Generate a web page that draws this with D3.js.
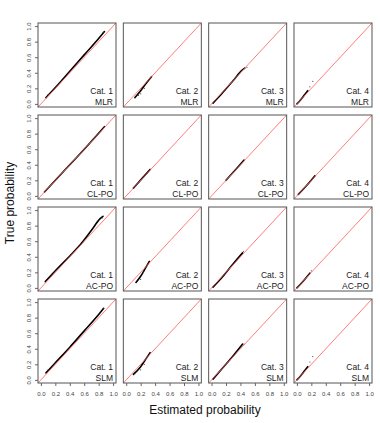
<!DOCTYPE html>
<html><head><meta charset="utf-8">
<script src="https://cdn.jsdelivr.net/npm/d3@7"></script>
<style>body{margin:0;background:#fff}svg{display:block;font-family:"Liberation Sans",Arial,sans-serif}</style>
</head><body><svg id="c" width="380" height="423"></svg>
<script>
const categories = ["Cat. 1","Cat. 2","Cat. 3","Cat. 4"];
const models = ["MLR","CL-PO","AC-PO","SLM"];
const ticks = [0,0.2,0.4,0.6,0.8,1.0];
// [estimated, true] points along each dense cloud, per category
const mlrCurves = [
  [[0.07,0.08],[0.2,0.21],[0.4,0.42],[0.6,0.63],[0.8,0.84],[0.88,0.93]],
  [[0.12,0.08],[0.2,0.17],[0.28,0.27],[0.35,0.35]],
  [[0.02,0.01],[0.15,0.14],[0.3,0.3],[0.42,0.43],[0.46,0.46]],
  [[0.0,0.0],[0.05,0.05],[0.1,0.11],[0.15,0.17]]
];
const mlrScatter = [
  [[0.1,0.12],[0.86,0.92]],
  [[0.2,0.13],[0.25,0.2],[0.17,0.11]],
  [[0.49,0.47]],
  [[0.18,0.22],[0.22,0.29]]
];
const clpoCurves = [
  [[0.05,0.05],[0.3,0.3],[0.6,0.6],[0.88,0.89]],
  [[0.1,0.1],[0.22,0.225],[0.33,0.34]],
  [[0.2,0.2],[0.35,0.355],[0.45,0.46]],
  [[0.02,0.02],[0.15,0.15],[0.25,0.26]]
];
const clpoScatter = [[],[],[],[]];
const acpoCurves = [
  [[0.06,0.08],[0.2,0.22],[0.4,0.41],[0.55,0.56],[0.7,0.74],[0.82,0.89],[0.86,0.92]],
  [[0.135,0.07],[0.2,0.15],[0.27,0.26],[0.32,0.34]],
  [[0.02,0.01],[0.15,0.14],[0.3,0.31],[0.43,0.45]],
  [[0.0,0.0],[0.08,0.08],[0.18,0.19]]
];
const acpoScatter = [
  [[0.85,0.9]],
  [[0.2,0.11],[0.24,0.2]],
  [[0.44,0.47]],
  [[0.2,0.22]]
];
const slmCurves = [
  [[0.07,0.09],[0.2,0.22],[0.4,0.42],[0.6,0.63],[0.8,0.84],[0.87,0.92]],
  [[0.1,0.07],[0.2,0.17],[0.28,0.28],[0.33,0.35]],
  [[0.02,0.01],[0.15,0.15],[0.3,0.31],[0.43,0.46]],
  [[0.0,0.0],[0.05,0.05],[0.1,0.11],[0.15,0.17]]
];
const slmScatter = [
  [[0.1,0.13],[0.86,0.92]],
  [[0.2,0.13],[0.25,0.2]],
  [[0.45,0.46]],
  [[0.18,0.23],[0.22,0.3]]
];
const allCurves = [mlrCurves, clpoCurves, acpoCurves, slmCurves];
const allScatter = [mlrScatter, clpoScatter, acpoScatter, slmScatter];

const svg = d3.select("#c");
const pw = 78, ph = 84;
const colX = d3.scaleLinear().domain([0,3]).range([38,294]);
const rowY = d3.scaleLinear().domain([0,3]).range([23,299]);
const x = d3.scaleLinear().domain([-0.04,1.04]).range([0,pw]);
const y = d3.scaleLinear().domain([-0.04,1.04]).range([ph,0]);
const fmt = d3.format(".1f");

svg.append("defs").append("clipPath").attr("id","pc").append("rect").attr("width",pw).attr("height",ph);

models.forEach((m, r) => {
  categories.forEach((cat, c) => {
    const g = svg.append("g").attr("transform", `translate(${colX(c)},${rowY(r)})`);
    const inner = g.append("g").attr("clip-path","url(#pc)");
    const line = d3.line().x(d=>x(d[0])).y(d=>y(d[1])).curve(d3.curveMonotoneX);
    inner.append("path").datum(allCurves[r][c]).attr("d", line)
      .attr("fill","none").attr("stroke","#000").attr("stroke-width",1.6).attr("stroke-linecap","round");
    inner.selectAll("circle").data(allScatter[r][c]).join("circle")
      .attr("cx",d=>x(d[0])).attr("cy",d=>y(d[1])).attr("r",0.6).attr("fill","#444");
    inner.append("line").attr("x1",x(-0.04)).attr("y1",y(-0.04)).attr("x2",x(1.04)).attr("y2",y(1.04))
      .attr("stroke","#ff5a5a").attr("stroke-width",0.8);
    g.append("rect").attr("width",pw).attr("height",ph).attr("fill","none").attr("stroke","#555").attr("stroke-width",1);
    g.append("text").attr("x",pw-3).attr("y",ph-13).attr("text-anchor","end").attr("font-size",8.5).attr("fill","#222").text(cat);
    g.append("text").attr("x",pw-3).attr("y",ph-2.5).attr("text-anchor","end").attr("font-size",8.5).attr("fill","#222").text(m);
    if (c === 0) {
      const ax = g.append("g").call(d3.axisLeft(y).tickValues(ticks).tickFormat(fmt).tickSize(3));
      ax.select(".domain").remove();
      ax.selectAll("line").attr("stroke","#666");
      ax.selectAll("text").attr("font-size",6).attr("fill","#444")
        .attr("x",0).attr("y",0).attr("dy",null)
        .attr("transform","translate(-7.5,0) rotate(-90)").attr("text-anchor","middle");
      ax.attr("font-family",null);
    }
    if (r === 3) {
      const ax = g.append("g").attr("transform",`translate(0,${ph})`)
        .call(d3.axisBottom(x).tickValues(ticks).tickFormat(fmt).tickSize(3).tickPadding(6));
      ax.select(".domain").remove();
      ax.selectAll("line").attr("stroke","#666");
      ax.selectAll("text").attr("font-size",6).attr("fill","#444");
      ax.attr("font-family",null);
    }
  });
});

svg.append("text").attr("x",205).attr("y",414).attr("text-anchor","middle").attr("font-size",12).attr("fill","#111").text("Estimated probability");
svg.append("text").attr("transform","translate(14,203) rotate(-90)").attr("text-anchor","middle").attr("font-size",12).attr("fill","#111").text("True probability");
</script></body></html>
